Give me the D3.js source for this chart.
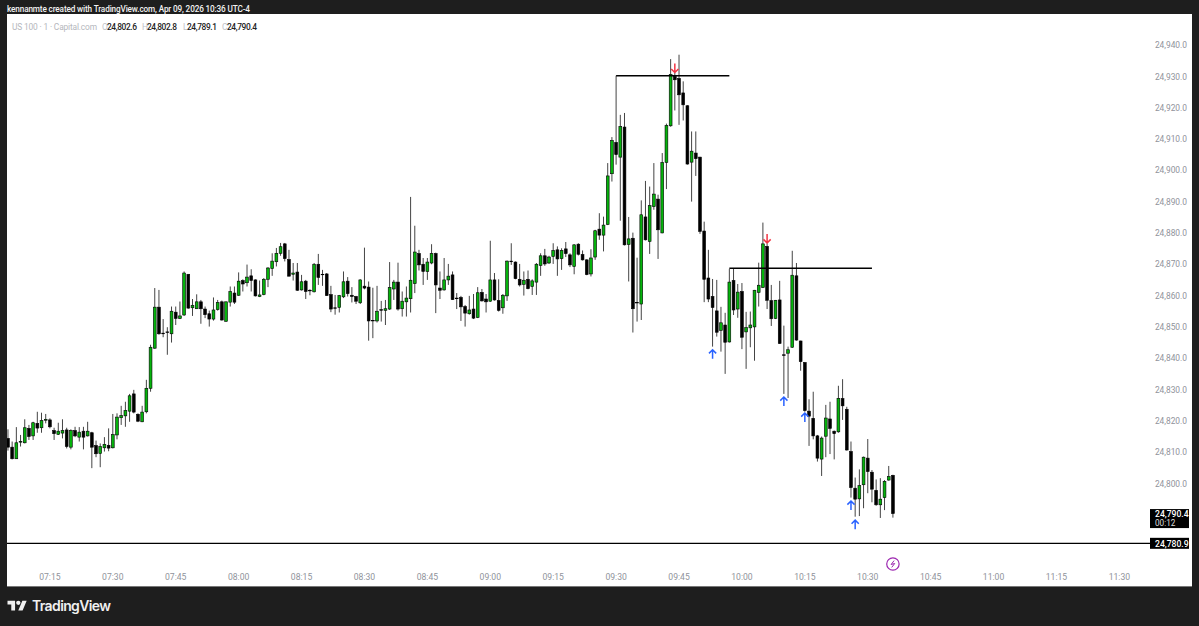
<!DOCTYPE html>
<html><head><meta charset="utf-8">
<style>html,body{margin:0;padding:0;background:#1e1e1e;overflow:hidden}svg{display:block}text{font-family:Roboto,"Noto Sans",sans-serif}</style>
<script src="https://cdn.jsdelivr.net/npm/d3@7/dist/d3.min.js"></script>
</head><body><svg id="c" width="1199" height="626"></svg>
<script>
// all price series are offsets from this base price
const basePrice = 24800;
const firstMinute = -10; // first candle, minutes after 07:15
const opens = [14.4,11.6,7.9,13.2,13.0,17.6,15.2,19.2,17.8,20.2,20.3,16.9,15.7,16.1,17.1,11.6,16.9,14.8,16.7,15.2,16.2,12.1,9.6,11.4,12.2,11.4,15.5,21.0,21.6,23.1,28.6,22.1,19.7,22.9,30.4,43.2,56.3,48.0,48.4,47.8,54.7,52.7,53.8,66.8,56.1,55.8,58.0,55.7,54.2,52.5,55.5,58.0,51.8,57.9,60.8,60.1,64.8,64.1,66.3,65.0,59.7,60.3,65.2,68.6,70.8,73.5,76.5,71.5,66.8,67.5,61.8,64.6,61.7,61.2,70.0,66.8,66.9,60.3,56.1,56.2,59.6,64.6,60.1,59.7,57.7,63.0,62.7,52.1,51.9,55.5,55.3,55.7,62.1,64.3,55.8,58.0,59.0,63.8,73.4,70.0,67.7,70.4,73.4,62.4,61.8,65.0,66.6,59.2,59.4,56.5,54.2,55.7,53.0,61.0,58.9,58.2,65.0,58.4,56.1,59.9,71.0,70.7,65.2,63.6,65.2,62.9,64.3,69.6,72.7,70.4,72.5,74.6,71.8,74.9,73.0,69.3,76.4,73.1,71.4,66.9,72.3,81.2,79.3,82.7,98.9,108.9,104.2,113.8,76.3,78.3,57.8,57.3,85.1,77.3,88.4,90.8,80.0,102.5,114.2,130.0,129.3,124.7,120.6,102.6,105.5,104.2,80.6,65.6,59.7,55.1,48.9,50.6,45.2,64.8,55.7,61.3,48.4,49.7,50.0,61.0,62.6,75.7,58.4,52.7,58.6,41.1,41.6,43.5,66.3,45.5,38.6,23.1,20.8,15.2,7.8,15.1,20.6,16.7,16.5,27.1,23.7,10.2,-1.5,-4.9,-0.4,8.1,3.6,-2.2,-6.8,-4.5,1.1,2.6];
const closes = [11.6,7.9,13.0,13.4,17.8,15.0,19.4,17.7,20.1,20.5,18.1,15.9,16.7,16.9,11.8,16.9,15.2,16.4,14.8,16.7,11.6,9.5,11.8,12.5,11.3,15.6,21.2,21.7,23.3,28.0,22.8,19.9,22.8,30.4,43.5,56.3,47.8,47.8,48.2,55.0,52.7,53.5,67.2,56.0,56.9,58.0,55.8,53.9,52.5,55.4,57.8,52.2,58.0,61.3,57.9,64.6,63.7,65.9,64.8,59.9,60.2,65.2,68.8,71.0,73.5,75.6,71.8,66.2,67.2,61.7,64.4,61.3,61.5,70.0,65.8,66.7,60.0,55.7,56.0,60.0,64.4,60.6,59.7,58.2,65.0,62.4,51.9,51.9,55.0,55.3,55.8,62.6,64.3,55.7,58.2,59.2,64.9,73.9,69.8,67.7,70.7,73.4,63.4,61.7,65.0,66.2,58.7,59.0,56.4,54.4,55.4,52.8,60.9,58.3,58.0,65.0,58.6,55.3,60.1,71.0,70.8,65.4,63.4,64.9,62.2,64.7,70.0,72.7,70.1,72.3,74.4,71.7,74.4,73.4,69.8,76.2,73.2,71.4,66.7,72.0,80.7,79.3,82.5,98.2,109.5,105.0,114.0,76.2,78.1,55.8,57.7,85.8,77.8,88.7,92.4,81.0,102.5,114.3,130.6,128.9,124.1,120.9,102.0,106.1,103.7,80.5,65.2,58.9,56.2,48.3,51.3,45.1,64.3,55.4,61.1,46.7,49.8,50.6,61.7,63.3,76.5,58.5,52.6,58.5,44.7,40.9,42.7,66.5,45.8,38.9,23.3,21.5,15.2,8.1,14.5,20.9,17.6,15.9,27.2,24.8,10.7,-1.3,-5.0,-0.7,8.4,3.8,-1.8,-6.8,-5.0,0.7,2.2,-9.6];
const highs = [17.3,13.4,18.0,15.5,20.5,18.7,19.7,22.9,22.6,22.2,20.8,17.8,19.4,20.5,17.8,17.3,18.1,18.0,18.1,19.7,16.5,13.7,12.8,14.8,17.6,22.2,22.4,24.8,26.1,28.6,29.9,22.4,24.8,33.1,44.3,62.4,61.8,52.5,49.9,56.5,56.5,58.1,67.7,66.8,58.9,60.4,58.6,56.5,55.2,59.4,58.6,58.4,58.1,62.9,62.9,67.4,65.2,69.9,68.4,65.2,64.8,65.6,69.1,73.5,75.2,76.8,76.8,74.6,70.4,70.4,66.6,65.0,62.0,70.4,73.3,68.2,67.2,63.1,60.2,60.2,67.7,65.9,62.7,59.9,65.2,75.3,64.5,62.5,63.1,58.3,58.6,70.7,65.0,70.5,61.3,62.9,91.5,82.3,74.6,72.0,72.0,76.4,73.7,67.7,72.0,70.1,67.7,60.8,59.9,57.0,59.9,60.5,62.7,62.1,60.5,77.5,67.2,65.2,60.5,71.2,76.7,70.9,70.1,67.7,68.0,65.2,70.4,73.5,74.9,72.7,76.7,75.7,75.1,77.1,73.5,76.4,76.7,74.4,71.6,74.8,81.0,86.3,85.2,102.3,110.6,130.2,117.7,118.3,85.1,80.1,72.1,90.4,96.6,94.8,102.3,92.2,105.5,114.9,135.5,131.2,136.9,128.4,120.8,112.4,112.4,104.3,83.6,74.6,65.3,65.0,56.4,54.5,68.5,68.5,63.7,64.0,54.8,54.9,61.8,70.5,83.3,76.7,63.4,58.6,64.7,50.4,43.7,74.3,70.4,45.6,38.8,26.9,29.3,15.5,15.0,25.1,26.1,16.9,31.2,33.3,24.5,13.4,1.9,4.5,8.6,14.2,4.3,1.3,1.7,1.1,5.6,2.8];
const lows = [10.5,7.7,7.9,11.8,12.8,13.9,13.9,16.2,16.2,19.2,17.6,13.9,15.5,14.4,11.2,10.9,14.8,13.4,10.9,15.0,4.9,8.4,5.2,10.2,10.3,11.2,14.1,18.7,18.1,19.7,22.4,19.6,19.6,22.4,29.3,43.0,47.5,46.7,41.1,45.0,50.6,52.5,53.5,55.8,53.5,55.7,51.0,52.8,50.1,52.0,55.2,52.0,51.6,56.5,57.3,59.9,61.3,62.9,61.3,59.7,59.5,60.1,62.7,66.3,69.3,72.7,70.9,66.1,64.8,61.5,61.6,58.9,60.1,61.0,63.4,63.1,59.9,54.7,53.9,54.6,59.2,59.7,57.8,57.3,57.3,62.0,45.6,46.4,51.4,51.7,50.6,55.4,58.6,55.2,53.3,53.3,54.6,60.8,68.0,63.4,65.0,70.0,54.4,58.9,61.6,63.4,58.6,55.7,51.9,50.1,53.9,52.5,52.8,58.1,54.6,58.0,58.4,54.9,54.2,58.3,69.8,65.2,62.9,60.0,62.0,60.2,60.2,66.3,69.5,70.1,70.1,66.3,68.2,72.3,69.1,66.8,72.8,71.2,66.5,66.1,71.4,77.8,74.1,82.5,96.4,101.8,83.9,76.0,64.5,48.2,51.7,52.2,77.6,73.3,87.4,71.7,79.9,94.0,113.9,119.1,114.5,115.9,101.8,90.0,98.2,79.7,57.9,57.9,43.7,46.9,42.1,35.0,45.0,53.8,52.9,42.9,36.6,43.5,39.2,56.5,62.4,55.7,50.3,52.5,44.6,28.6,27.3,43.3,45.6,36.0,22.9,12.0,14.1,7.0,2.4,8.4,9.4,7.7,16.2,20.3,10.5,-4.5,-10.6,-10.4,-7.9,-3.1,-6.0,-7.1,-11.0,-8.5,0.9,-10.9];
const priceTicks = [24800,24810,24820,24830,24840,24850,24860,24870,24880,24890,24900,24910,24920,24930,24940];
const timeLabels = ["07:15","07:30","07:45","08:00","08:15","08:30","08:45","09:00","09:15","09:30","09:45","10:00","10:15","10:30","10:45","11:00","11:15","11:30"];
const timeMinutes = [0,15,30,45,60,75,90,105,120,135,150,165,180,195,210,225,240,255];
const levelStart = [135,162], levelEnd = [162,196], levelPrice = [24930.2,24868.7];
const downArrowMinute = [149,171], downArrowPrice = [24931.2,24876.8];
const upArrowMinute = [158,175,180,191,192], upArrowPrice = [24842.7,24827.6,24822.5,24794.4,24788.3];
const lastPrice = 24790.4, lastCountdown = "00:12", lineLevel = 24780.9, boltMinute = 201, boltPrice = 24774.3;
const legendName = "US 100 · 1 · Capital.com";
const legendKeys = ["O","H","L","C"], legendVals = ["24,802.6","24,802.8","24,789.1","24,790.4"];

const svg = d3.select("#c");
const W=1199,H=626, L=7,T=14,R=1192,B=586;
const x = d3.scaleLinear().domain([0,255]).range([49.4,1118.9]);
const y = d3.scaleLinear().domain([24800,24940]).range([483.5,45]);
const fmt = d3.format(",.1f");
const ink="#000", up="#05b30c", muted="#90939b";

svg.append("rect").attr("width",W).attr("height",H).attr("fill","#1e1e1e");
svg.append("rect").attr("x",L).attr("y",T).attr("width",R-L).attr("height",B-T).attr("fill","#fff");
svg.append("rect").attr("x",L).attr("y",B).attr("width",R-L).attr("height",1).attr("fill","#777");
svg.append("defs").append("clipPath").attr("id","pane").append("rect").attr("x",L).attr("y",T).attr("width",R-L).attr("height",B-T);

svg.append("text").attr("x",7).attr("y",12).attr("fill","#f2f2f2").attr("font-size",8.2).attr("font-weight",500).attr("textLength",243)
  .text("kennanmte created with TradingView.com, Apr 09, 2026 10:36 UTC-4");

const legendY=30;
svg.append("text").attr("x",12).attr("y",legendY).attr("fill","#b5b7bd").attr("font-size",8.4).attr("textLength",85).text(legendName);
const keyX=[102,142,183,222], valX=[107,147,187,227];
legendKeys.forEach((k,i)=>{
  svg.append("text").attr("x",keyX[i]).attr("y",legendY).attr("fill","#c0c2c8").attr("font-size",8.4).text(k);
  svg.append("text").attr("x",valX[i]).attr("y",legendY).attr("fill","#222").attr("font-size",8.4).attr("font-weight",500).attr("textLength",30).text(legendVals[i]);
});

// axes
const ya = svg.append("g").attr("transform","translate(1187,0)")
  .call(d3.axisLeft(y).tickValues(priceTicks).tickFormat(fmt).tickSize(0));
ya.select(".domain").remove();
ya.selectAll("text").attr("x",0).attr("fill",muted).attr("font-size",8.4).style("font-family","Roboto");
const xa = svg.append("g").attr("transform","translate(0,574)")
  .call(d3.axisBottom(x).tickValues(timeMinutes).tickFormat((d,i)=>timeLabels[i]).tickSize(0));
xa.select(".domain").remove();
xa.selectAll("text").attr("y",0).attr("dy",".71em").attr("fill",muted).attr("font-size",8.6).style("font-family","Roboto");

// candles
const cx = d3.scaleLinear().domain([0,255]).range([49.9,1119.4]);
const candles = opens.map((o,i)=>({m:firstMinute+i,o:basePrice+o,c:basePrice+closes[i],h:basePrice+highs[i],l:basePrice+lows[i]}));
const g = svg.append("g").attr("clip-path","url(#pane)");
g.selectAll("line.w").data(candles).join("line").attr("class","w")
  .attr("x1",d=>cx(d.m)).attr("x2",d=>cx(d.m)).attr("y1",d=>y(d.h)).attr("y2",d=>y(d.l))
  .attr("stroke","#444").attr("stroke-width",1);
g.selectAll("rect.b").data(candles).join("rect").attr("class","b")
  .attr("x",d=>cx(d.m)-1.4).attr("width",2.8)
  .attr("y",d=>y(Math.max(d.o,d.c))).attr("height",d=>Math.max(0.5,Math.abs(y(d.o)-y(d.c))))
  .attr("fill",d=>d.c>=d.o?up:ink).attr("stroke",ink).attr("stroke-width",0.6);

// horizontal levels
g.selectAll("line.lv").data(levelPrice).join("line").attr("class","lv")
  .attr("x1",(d,i)=>cx(levelStart[i])).attr("x2",(d,i)=>cx(levelEnd[i]))
  .attr("y1",d=>y(d)).attr("y2",d=>y(d)).attr("stroke",ink).attr("stroke-width",1.4);
svg.append("line").attr("x1",L).attr("x2",1150).attr("y1",y(lineLevel)).attr("y2",y(lineLevel)).attr("stroke",ink).attr("stroke-width",1.3);

// arrows
function arrow(px,py,dir,col){ // tip at (px,py); dir=1 points up, -1 points down
  const p=d3.path(); const len=9*dir, hw=3.6, hh=3.6*dir;
  p.moveTo(px,py); p.lineTo(px,py+len);
  p.moveTo(px-hw,py+hh); p.lineTo(px,py); p.lineTo(px+hw,py+hh);
  svg.append("path").attr("d",p.toString()).attr("fill","none").attr("stroke",col).attr("stroke-width",1.5);
}
upArrowMinute.forEach((m,i)=>arrow(cx(m),y(upArrowPrice[i]),1,"#2962ff"));
downArrowMinute.forEach((m,i)=>arrow(cx(m),y(downArrowPrice[i]),-1,"#f23645"));

// price labels
const lastY=y(lastPrice), lvlY=y(lineLevel);
svg.append("rect").attr("x",1150).attr("y",lastY-4.5).attr("width",39).attr("height",19).attr("fill",ink);
svg.append("text").attr("x",1155).attr("y",lastY+3.5).attr("fill","#fff").attr("font-size",8.6).attr("font-weight",500).text(fmt(lastPrice));
svg.append("text").attr("x",1155).attr("y",lastY+12.5).attr("fill","#ddd").attr("font-size",8.2).text(lastCountdown);
svg.append("rect").attr("x",1150).attr("y",lvlY-5.5).attr("width",39).attr("height",11).attr("fill",ink);
svg.append("text").attr("x",1155).attr("y",lvlY+3.2).attr("fill","#fff").attr("font-size",8.6).attr("font-weight",500).text(fmt(lineLevel));

// bolt marker
const bx=cx(boltMinute), by=y(boltPrice);
svg.append("circle").attr("cx",bx).attr("cy",by).attr("r",6.2).attr("fill","#fff").attr("stroke","#9c27b0").attr("stroke-width",1.2);
const bolt=d3.path(); bolt.moveTo(bx+1.2,by-3.4); bolt.lineTo(bx-1.8,by+.5); bolt.lineTo(bx+1.8,by-.5); bolt.lineTo(bx-1.2,by+3.4);
svg.append("path").attr("d",bolt.toString()).attr("fill","none").attr("stroke","#9c27b0").attr("stroke-width",1);

// logo
svg.append("g").attr("transform","translate(7.5,598.5) scale(.54)").attr("fill","#f0f0f0")
  .call(s=>{s.append("path").attr("d","M14 22H7V11H0V4h14v18zM28 22h-8l7.5-18h8L28 22z");s.append("circle").attr("cx",20).attr("cy",8).attr("r",4);});
svg.append("text").attr("x",32).attr("y",611).attr("fill","#f0f0f0").attr("font-size",14).attr("font-weight",600).attr("textLength",79).style("font-family","Inter").text("TradingView");
</script></body></html>
